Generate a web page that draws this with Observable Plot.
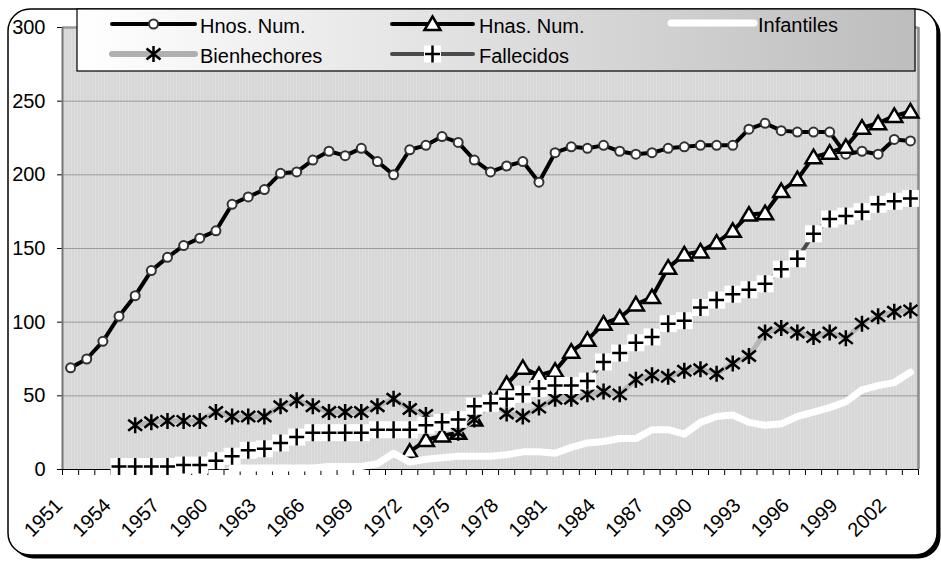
<!DOCTYPE html>
<html><head><meta charset="utf-8">
<script src="https://cdn.jsdelivr.net/npm/d3@7"></script>
<script src="https://cdn.jsdelivr.net/npm/@observablehq/plot@0.6"></script>
<style>
html,body{margin:0;padding:0;background:#fff;}
#chart{position:relative;width:941px;height:562px;}
</style></head><body><div id="chart"></div>
<script>
const years = [1951,1952,1953,1954,1955,1956,1957,1958,1959,1960,
  1961,1962,1963,1964,1965,1966,1967,1968,1969,1970,
  1971,1972,1973,1974,1975,1976,1977,1978,1979,1980,
  1981,1982,1983,1984,1985,1986,1987,1988,1989,1990,
  1991,1992,1993,1994,1995,1996,1997,1998,1999,2000,
  2001,2002,2003];
const labelYears = [1951,1954,1957,1960,1963,1966,1969,1972,1975,1978,1981,1984,1987,1990,1993,1996,1999,2002];
const yTicks = [0,50,100,150,200,250,300];
const seriesNames = ["Hnos. Num.","Hnas. Num.","Infantiles","Bienhechores","Fallecidos"];

const hnos = [69,75,87,104,118,135,144,152,157,162,
  180,185,190,201,202,210,216,213,218,209,
  200,217,220,226,222,210,202,206,209,195,
  215,219,218,220,216,214,215,218,219,220,
  220,220,231,235,230,229,229,229,214,216,
  214,224,223];
const hnas = [null,null,null,null,null,null,null,null,null,null,
  null,null,null,null,null,null,null,null,null,null,
  null,12,20,23,25,34,47,58,69,64,
  67,80,88,99,103,112,117,137,146,148,
  154,162,173,174,189,197,212,215,219,232,
  235,240,243];
const infantiles = [null,null,null,null,null,null,null,null,null,null,
  1,1,1,1,1,1,2,2,2,4,
  11,5,7,8,9,9,9,10,12,12,
  11,15,18,19,21,21,27,27,24,32,
  36,37,32,30,31,36,39,42,46,54,
  57,59,66];
const bienhechores = [null,null,null,null,30,32,33,33,33,39,
  36,36,36,43,47,43,39,39,39,43,
  48,41,37,33,25,34,45,38,36,42,
  48,48,51,53,51,61,64,63,67,68,
  65,72,77,93,96,93,90,93,89,99,
  104,107,108];
const fallecidos = [null,null,null,2,2,2,2,3,3,6,
  9,13,14,18,22,25,25,25,25,27,
  27,27,30,32,34,43,45,48,51,55,
  57,57,60,73,79,86,90,99,101,110,
  115,119,122,126,136,143,160,170,172,175,
  180,182,184];

const rows = vals => years.map((year, i) => ({year, v: vals[i]}));
const bounds = years.map(y => y - 0.5).concat([years[years.length - 1] + 0.5]);

const symTriangle = {draw(c){ c.moveTo(0,-7.5); c.lineTo(8,6); c.lineTo(-8,6); c.closePath(); }};
const symBox = {draw(c){ c.rect(-8.5,-8.5,17,17); }};
const symPlus = {draw(c){ c.moveTo(-7.5,0); c.lineTo(7.5,0); c.moveTo(0,-8.5); c.lineTo(0,8.5); }};
const symAst = {draw(c){ c.moveTo(0,-8); c.lineTo(0,8); c.moveTo(-7,-5.5); c.lineTo(7,5.5); c.moveTo(-7,5.5); c.lineTo(7,-5.5); }};

const lineOpts = {x: "year", y: "v", strokeLinejoin: "round", strokeLinecap: "round"};

const plot = Plot.plot({
  width: 941, height: 562,
  marginLeft: 62, marginRight: 23, marginTop: 27, marginBottom: 93,
  style: {background: "white", fontFamily: "'Liberation Sans', Arial, sans-serif", fontSize: "20px", color: "#000", overflow: "visible"},
  x: {domain: [bounds[0], bounds[bounds.length - 1]], ticks: bounds, tickFormat: () => "", tickSize: 6, label: null},
  y: {domain: [0, 300], ticks: yTicks, tickSize: 5, tickPadding: 12, label: null},
  marks: [
    Plot.frame({fill: "url(#hatch)"}),
    Plot.ruleY(yTicks.filter(t => t > 0 && t < 300), {stroke: "#9c9c9c", strokeWidth: 1}),
    Plot.ruleY([300], {stroke: "#9a9a9a", strokeWidth: 2.5}),
    Plot.ruleX([bounds[bounds.length - 1]], {stroke: "#8a8a8a", strokeWidth: 2.5}),
    Plot.ruleX([bounds[0]], {stroke: "#777", strokeWidth: 2}),
    Plot.ruleY([0], {stroke: "#000", strokeWidth: 1.2}),
    // Hnos. Num.
    Plot.line(rows(hnos), {...lineOpts, stroke: "#000", strokeWidth: 4}),
    Plot.dot(rows(hnos), {x: "year", y: "v", r: 4.5, fill: "#fff", stroke: "#333", strokeWidth: 2}),
    // Hnas. Num.
    Plot.line(rows(hnas), {...lineOpts, stroke: "#000", strokeWidth: 4}),
    Plot.dot(rows(hnas), {x: "year", y: "v", r: 5, symbol: symTriangle, fill: "#fff", stroke: "#000", strokeWidth: 2.5}),
    // Infantiles
    Plot.line(rows(infantiles), {...lineOpts, stroke: "#fff", strokeWidth: 7}),
    // Bienhechores
    Plot.line(rows(bienhechores), {...lineOpts, stroke: "#b6b6b6", strokeWidth: 5}),
    Plot.dot(rows(bienhechores), {x: "year", y: "v", r: 5, symbol: symAst, fill: "none", stroke: "#000", strokeWidth: 2.5}),
    // Fallecidos
    Plot.line(rows(fallecidos), {...lineOpts, stroke: "#4a4a4a", strokeWidth: 4}),
    Plot.dot(rows(fallecidos), {x: "year", y: "v", r: 5, symbol: symBox, fill: "#fff", stroke: "none"}),
    Plot.dot(rows(fallecidos), {x: "year", y: "v", r: 5, symbol: symPlus, fill: "none", stroke: "#000", strokeWidth: 2.5}),
    // x labels (year categories)
    Plot.text(labelYears, {x: d => d, frameAnchor: "bottom", text: d => String(d), fontSize: 20, fill: "#000"})
  ]
});

const svg = d3.select(plot);
const xs = plot.scale("x"), ys = plot.scale("y");
const labelSet = new Set(labelYears.map(String));
const labelLayer = svg.append("g").attr("font-family", "'Liberation Sans', Arial, sans-serif").attr("font-size", 20).attr("fill", "#000");
svg.selectAll("text").filter(function() { return labelSet.has(this.textContent); }).each(function() {
  const year = +this.textContent;
  const px = xs.apply(year) - 11, py = ys.apply(0) + 33;
  const g = labelLayer.append("g").attr("transform", `translate(${px},${py})`);
  const r = g.append("g").attr("transform", "rotate(-45)");
  r.append("text").attr("text-anchor", "end").attr("dy", "0.32em").attr("x", 0).attr("y", 0).text(this.textContent);
  this.remove();
});
// outer border with shadow
svg.insert("rect", ":first-child").attr("x", 8).attr("y", 9).attr("width", 929).attr("height", 546).attr("rx", 22)
  .attr("fill", "#fff").attr("stroke", "#000").attr("stroke-width", 1.5);
svg.insert("rect", ":first-child").attr("x", 11.5).attr("y", 12.5).attr("width", 929).attr("height", 546).attr("rx", 22)
  .attr("fill", "#000");
const defs = svg.insert("defs", ":first-child");
const pat = defs.append("pattern").attr("id", "hatch").attr("patternUnits", "userSpaceOnUse").attr("width", 3).attr("height", 3);
pat.append("rect").attr("width", 3).attr("height", 3).attr("fill", "#dfdfdf");
pat.append("rect").attr("width", 1).attr("height", 3).attr("fill", "#cecece");
const grad = defs.append("linearGradient").attr("id", "legGrad").attr("x1", 0).attr("x2", 1).attr("y1", 0).attr("y2", 0);
grad.append("stop").attr("offset", 0).attr("stop-color", "#ffffff");
grad.append("stop").attr("offset", 1).attr("stop-color", "#bdbdbd");

// legend
const lg = svg.append("g").attr("font-family", "'Liberation Sans', Arial, sans-serif").attr("font-size", 20).attr("text-anchor", "start");
lg.append("rect").attr("x", 77).attr("y", 9).attr("width", 838).attr("height", 62).attr("fill", "url(#legGrad)").attr("stroke", "#000").attr("stroke-width", 1.2);
const pathOf = s => { const p = d3.path(); s.draw(p); return p.toString(); };
const entries = [
  {name: seriesNames[0], x0: 112, x1: 195, y: 24, tx: 200, stroke: "#000", sw: 4, mark: "circle"},
  {name: seriesNames[1], x0: 392, x1: 473, y: 24, tx: 479, stroke: "#000", sw: 4, mark: "tri"},
  {name: seriesNames[2], x0: 671, x1: 754, y: 23, tx: 758, stroke: "#fff", sw: 7, mark: null},
  {name: seriesNames[3], x0: 112, x1: 195, y: 54, tx: 200, stroke: "#b0b0b0", sw: 6, mark: "ast"},
  {name: seriesNames[4], x0: 392, x1: 473, y: 54, tx: 479, stroke: "#4a4a4a", sw: 4, mark: "plus"}
];
for (const e of entries) {
  lg.append("line").attr("x1", e.x0).attr("x2", e.x1).attr("y1", e.y).attr("y2", e.y)
    .attr("stroke", e.stroke).attr("stroke-width", e.sw).attr("stroke-linecap", "round");
  const cx = (e.x0 + e.x1) / 2;
  const g = lg.append("g").attr("transform", `translate(${cx},${e.y})`);
  if (e.mark === "circle") g.append("circle").attr("r", 4.5).attr("fill", "#fff").attr("stroke", "#333").attr("stroke-width", 2);
  if (e.mark === "tri") g.append("path").attr("d", pathOf(symTriangle)).attr("fill", "#fff").attr("stroke", "#000").attr("stroke-width", 2.5);
  if (e.mark === "ast") g.append("path").attr("d", pathOf(symAst)).attr("fill", "none").attr("stroke", "#000").attr("stroke-width", 2.5);
  if (e.mark === "plus") {
    g.append("path").attr("d", pathOf(symBox)).attr("fill", "#fff");
    g.append("path").attr("d", pathOf(symPlus)).attr("fill", "none").attr("stroke", "#000").attr("stroke-width", 2.5);
  }
  lg.append("text").attr("x", e.tx).attr("y", e.y + 9).attr("fill", "#000").attr("text-anchor", "start").text(e.name);
}

document.getElementById("chart").appendChild(plot);
</script>
</body></html>
